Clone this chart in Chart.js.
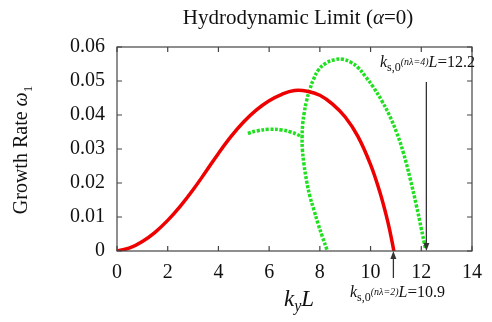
<!DOCTYPE html>
<html>
<head>
<meta charset="utf-8">
<script src="https://cdn.jsdelivr.net/npm/chart.js@4"></script>
<style>
  html, body { margin: 0; padding: 0; background: #fff; }
  #chart { display: block; }
</style>
</head>
<body>
<canvas id="chart" width="492" height="322"></canvas>
<script>
/* ===============================
   DATA
================================ */
const xTicks = [0, 2, 4, 6, 8, 10, 12, 14];
const yTicks = [0, 0.01, 0.02, 0.03, 0.04, 0.05, 0.06];

// n_lambda = 2 branch (solid red)
const redX = [0, 0.5, 1, 1.5, 2, 2.5, 3, 3.5, 4, 4.5, 5, 5.5, 6, 6.5, 7, 7.5, 8, 8.5, 9, 9.5, 10, 10.35, 10.6, 10.75, 10.92];
const redY = [0, 0.0009, 0.0028, 0.0055, 0.009, 0.0132, 0.018, 0.0233, 0.0287, 0.0337, 0.038, 0.0415, 0.0442, 0.0461, 0.0472, 0.047, 0.0458, 0.0432, 0.0394, 0.0337, 0.0254, 0.0177, 0.011, 0.0063, 0];

// n_lambda = 4: small arc on the left
const arcX = [5.16, 5.5, 6.0, 6.5, 6.85, 7.1, 7.3];
const arcY = [0.0346, 0.0353, 0.0358, 0.0356, 0.035, 0.0343, 0.0335];

// n_lambda = 4: main loop, from the 8.3 root up over the peak down to 12.16
const loopX = [8.28, 8.1, 7.93, 7.77, 7.61, 7.48, 7.37, 7.31, 7.3, 7.32, 7.38, 7.47, 7.6, 7.75, 7.95, 8.25, 8.6, 8.9, 9.2, 9.5, 9.8, 10.1, 10.45, 10.75, 11.03, 11.29, 11.56, 11.81, 12.0, 12.16];
const loopY = [0.0004, 0.0042, 0.008, 0.012, 0.016, 0.0205, 0.0257, 0.03, 0.0335, 0.037, 0.0405, 0.044, 0.0474, 0.0505, 0.0533, 0.0553, 0.0563, 0.0564, 0.0556, 0.054, 0.0513, 0.0483, 0.0441, 0.0398, 0.0348, 0.029, 0.0213, 0.0133, 0.0066, 0.0008];

// cutoff markers
const cutoff4 = 12.2;
const cutoff2 = 10.9;

const SERIF = '"Liberation Serif", "DejaVu Serif", serif';
const GREEN = "#1fe01f";

function pts(xs, ys) {
  return xs.map((x, i) => ({ x: x, y: ys[i] }));
}

/* ===============================
   TEXT HELPERS
================================ */
function segWidth(ctx, segs) {
  let w = 0;
  segs.forEach(s => { ctx.font = s[1]; w += ctx.measureText(s[0]).width; });
  return w;
}

// segments are [text, font, dy]
function drawSegs(ctx, segs, x, y) {
  ctx.textAlign = "left";
  ctx.textBaseline = "alphabetic";
  segs.forEach(s => {
    ctx.font = s[1];
    ctx.fillText(s[0], x, y + (s[2] || 0));
    x += ctx.measureText(s[0]).width;
  });
}

function arrow(ctx, x, y1, y2) {
  const dir = y2 > y1 ? 1 : -1;
  ctx.strokeStyle = "#333";
  ctx.fillStyle = "#333";
  ctx.lineWidth = 1.3;
  ctx.beginPath();
  ctx.moveTo(x, y1);
  ctx.lineTo(x, y2 - dir * 5);
  ctx.stroke();
  ctx.beginPath();
  ctx.moveTo(x, y2);
  ctx.lineTo(x - 3, y2 - dir * 8);
  ctx.lineTo(x + 3, y2 - dir * 8);
  ctx.closePath();
  ctx.fill();
}

/* ===============================
   DECORATION PLUGIN
================================ */
const decor = {
  id: "decor",
  afterDraw(chart) {
    const ctx = chart.ctx;
    const xs = chart.scales.x, ys = chart.scales.y;
    const a = chart.chartArea;
    ctx.save();

    // frame + inward ticks on all sides
    ctx.strokeStyle = "#444";
    ctx.lineWidth = 1.2;
    ctx.strokeRect(a.left, a.top, a.right - a.left, a.bottom - a.top);
    ctx.beginPath();
    xTicks.forEach(v => {
      const px = xs.getPixelForValue(v);
      ctx.moveTo(px, a.bottom); ctx.lineTo(px, a.bottom - 5);
      ctx.moveTo(px, a.top); ctx.lineTo(px, a.top + 5);
    });
    yTicks.forEach(v => {
      const py = ys.getPixelForValue(v);
      ctx.moveTo(a.left, py); ctx.lineTo(a.left + 5, py);
      ctx.moveTo(a.right, py); ctx.lineTo(a.right - 5, py);
    });
    ctx.stroke();

    ctx.fillStyle = "#111";

    // title
    const title = [
      ["Hydrodynamic Limit (", "21px " + SERIF],
      ["\u03b1", "italic 21px " + SERIF],
      ["=0)", "21px " + SERIF]
    ];
    drawSegs(ctx, title, 298 - segWidth(ctx, title) / 2, 24);

    // x title
    const xt = [
      ["k", "italic 23px " + SERIF],
      ["y", "italic 16px " + SERIF, 5],
      ["L", "italic 23px " + SERIF]
    ];
    drawSegs(ctx, xt, 299 - segWidth(ctx, xt) / 2, 306);

    // y title, rotated
    const yt = [
      ["Growth Rate ", "20px " + SERIF],
      ["\u03c9", "italic 20px " + SERIF],
      ["1", "13px " + SERIF, 5]
    ];
    ctx.save();
    ctx.translate(27, 150);
    ctx.rotate(-Math.PI / 2);
    drawSegs(ctx, yt, -segWidth(ctx, yt) / 2, 0);
    ctx.restore();

    // cutoff arrows
    const x4 = xs.getPixelForValue(cutoff4);
    const x2 = xs.getPixelForValue(cutoff2);
    arrow(ctx, x4, 82, a.bottom);
    arrow(ctx, x2, a.bottom + 27, a.bottom);

    ctx.fillStyle = "#111";
    const lab = n => [
      ["k", "italic 16px " + SERIF],
      ["s,0", "12px " + SERIF, 4],
      ["(n\u03bb=" + n + ")", "italic 10px " + SERIF, -2],
      ["L", "italic 16px " + SERIF],
      ["=", "17px " + SERIF],
      [n === 4 ? "12.2" : "10.9", "16px " + SERIF]
    ];
    drawSegs(ctx, lab(4), 380, 67);
    drawSegs(ctx, lab(2), 350, 297);

    ctx.restore();
  }
};

/* ===============================
   CHART
================================ */
const tickFont = { family: SERIF, size: 20 };

new Chart(document.getElementById("chart"), {
  type: "scatter",
  data: {
    datasets: [
      {
        data: pts(redX, redY),
        showLine: true,
        borderColor: "#ee0000",
        borderWidth: 3.5,
        pointRadius: 0,
        tension: 0.4
      },
      {
        data: pts(arcX, arcY),
        showLine: true,
        borderColor: GREEN,
        borderWidth: 3.5,
        borderDash: [3, 1.6],
        pointRadius: 0,
        tension: 0.4
      },
      {
        data: pts(loopX, loopY),
        showLine: true,
        borderColor: GREEN,
        borderWidth: 3.5,
        borderDash: [3, 1.6],
        pointRadius: 0,
        tension: 0.4
      }
    ]
  },
  options: {
    responsive: false,
    animation: false,
    layout: { padding: { left: 0, top: 47, right: 14, bottom: 0 } },
    plugins: {
      legend: { display: false },
      tooltip: { enabled: false }
    },
    scales: {
      x: {
        type: "linear",
        min: 0, max: 14,
        grid: { display: false, drawTicks: false },
        border: { display: false },
        afterFit: s => { s.height = 71; },
        afterBuildTicks: s => { s.ticks = xTicks.map(v => ({ value: v })); },
        ticks: {
          font: tickFont, color: "#111", padding: 10,
          maxRotation: 0,
          callback: v => String(v)
        }
      },
      y: {
        type: "linear",
        min: 0, max: 0.06,
        grid: { display: false, drawTicks: false },
        border: { display: false },
        afterFit: s => { s.width = 117; },
        afterBuildTicks: s => { s.ticks = yTicks.map(v => ({ value: v })); },
        ticks: {
          font: tickFont, color: "#111", padding: 12,
          callback: v => v === 0 ? "0" : v.toFixed(2)
        }
      }
    }
  },
  plugins: [decor]
});
</script>
</body>
</html>
